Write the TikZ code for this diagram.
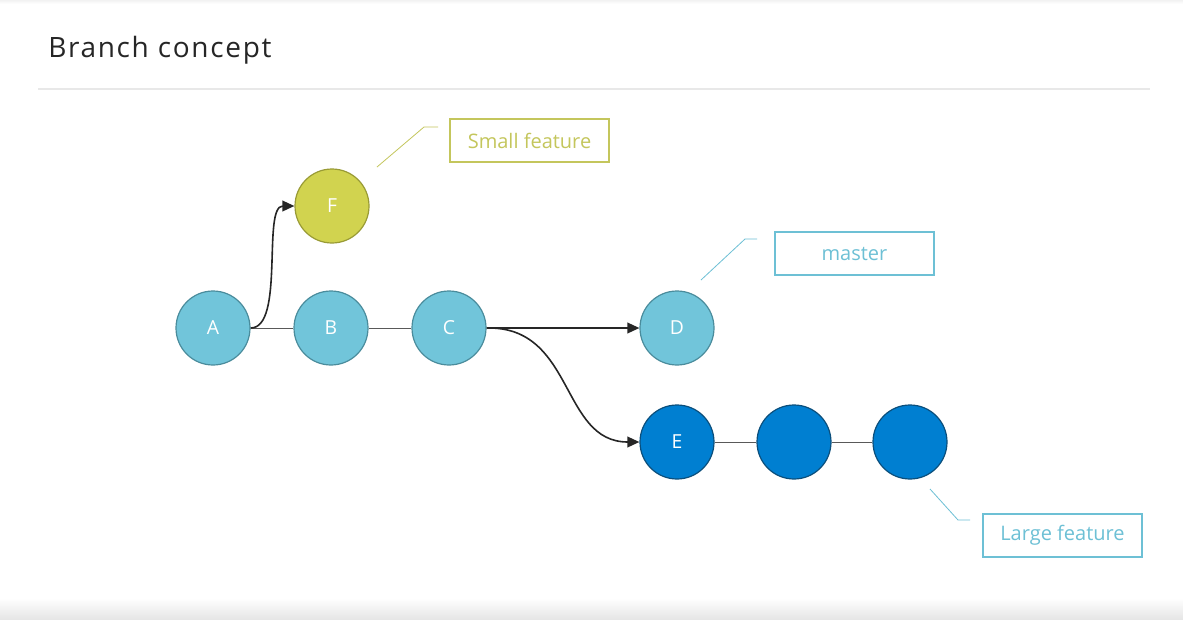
\documentclass[tikz,border=0pt]{standalone}
\usepackage{fontspec}
\setmainfont{Open Sans}
\newfontfamily\titlefont[LetterSpace=6]{Open Sans}
\usetikzlibrary{arrows.meta}
\definecolor{lblue}{HTML}{71C5DA}
\definecolor{lblueb}{HTML}{4A8C9C}
\definecolor{dblue}{HTML}{007FD1}
\definecolor{dblueb}{HTML}{0B4F7C}
\definecolor{yel}{HTML}{D1D34F}
\definecolor{yelb}{HTML}{999B35}
\definecolor{yeltxt}{HTML}{C4C65C}
\definecolor{bluetxt}{HTML}{6DC0D5}
\tikzset{
  commit/.style={circle, minimum size=55.5pt, inner sep=0pt, line width=0.9pt, text=white, font=\fontsize{14.5}{16}\selectfont},
  lightc/.style={commit, fill=lblue, draw=lblueb},
  darkc/.style={commit, fill=dblue, draw=dblueb},
  yelc/.style={commit, fill=yel, draw=yelb},
  link/.style={draw=black!65, line width=0.6pt},
  branch/.style={draw=black!85, line width=1.2pt, -{Triangle[length=9pt,width=8pt]}},
  tag/.style={draw, line width=0.8pt, minimum width=119.25pt, minimum height=32.25pt, inner sep=0pt, font=\fontsize{15}{17}\selectfont},
  leader/.style={line width=0.6pt}
}
\begin{document}
\begin{tikzpicture}[x=0.75pt,y=-0.75pt]
\fill[white] (0,0) rectangle (1183,619);
\useasboundingbox (0,0) rectangle (1183,619);
\shade[top color=white, bottom color=black!10] (0,598) rectangle (1183,619);
\shade[top color=black!5, bottom color=white] (0,0) rectangle (1183,4);
\node[anchor=base west, inner sep=0pt, text=black!85, font=\titlefont\fontsize{21}{24}\selectfont] (title) at (48,57) {Branch concept};
\draw[black!9, line width=1pt] (38,89) -- (1150,89);

\node[lightc] (A) at (213,328) {A};
\node[lightc] (B) at (331,328) {B};
\node[lightc] (C) at (449,328) {C};
\node[lightc] (D) at (677,328) {D};
\node[darkc] (E) at (677,442) {E};
\node[darkc] (E2) at (794,442) {};
\node[darkc] (E3) at (910,442) {};
\node[yelc] (F) at (332,206) {F};

\draw[link] (A) -- (B);
\draw[link] (B) -- (C);
\draw[link] (E) -- (E2);
\draw[link] (E2) -- (E3);

\draw[branch] (A.east) .. controls (285,328) and (262,206) .. (F.west);
\draw[branch] (C.east) -- (D.west);
\draw[branch] (C.east) .. controls (575,326) and (560,442) .. (E.west);

\node[tag, draw=yeltxt, text=yeltxt] (small) at (529.5,140.5) {Small feature};
\node[tag, draw=bluetxt, text=bluetxt] (master) at (854.5,253.5) {master};
\node[tag, draw=bluetxt, text=bluetxt] (large) at (1062.5,535.5) {Large feature};

\coordinate (s1) at (377,167);
\coordinate (s2) at (424,127);
\coordinate (s3) at (438,127);
\draw[leader, yeltxt] (s1) -- (s2) -- (s3);
\coordinate (m1) at (701,280);
\coordinate (m2) at (745,239);
\coordinate (m3) at (757,239);
\draw[leader, bluetxt] (m1) -- (m2) -- (m3);
\coordinate (l1) at (930,489);
\coordinate (l2) at (958,520);
\coordinate (l3) at (970,520);
\draw[leader, bluetxt] (l1) -- (l2) -- (l3);
\end{tikzpicture}
\end{document}
